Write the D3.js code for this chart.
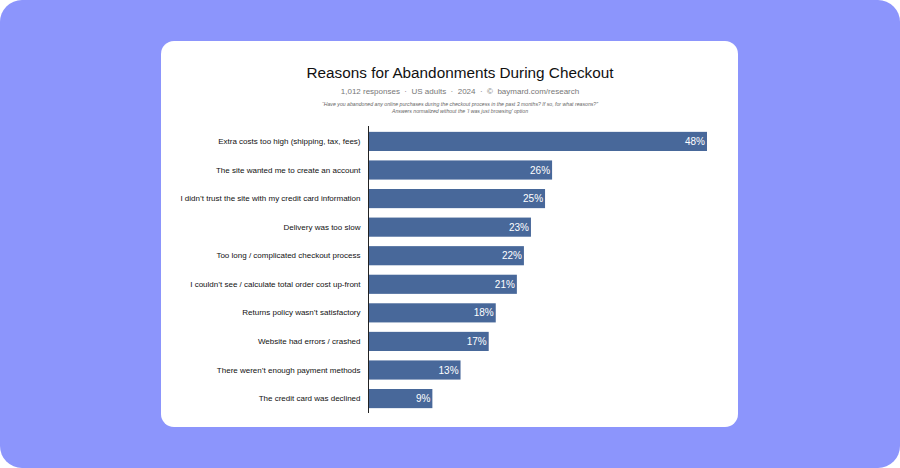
<!DOCTYPE html>
<html><head><meta charset="utf-8">
<script src="https://cdn.jsdelivr.net/npm/d3@7"></script>
<style>html,body{margin:0;padding:0;background:#fff;}svg{display:block;}</style>
</head><body>
<script>
const categories = [
  "Extra costs too high (shipping, tax, fees)",
  "The site wanted me to create an account",
  "I didn\u2019t trust the site with my credit card information",
  "Delivery was too slow",
  "Too long / complicated checkout process",
  "I couldn\u2019t see / calculate total order cost up-front",
  "Returns policy wasn\u2019t satisfactory",
  "Website had errors / crashed",
  "There weren\u2019t enough payment methods",
  "The credit card was declined"
];
const values = [48, 26, 25, 23, 22, 21, 18, 17, 13, 9];
const title = "Reasons for Abandonments During Checkout";
const subtitle = "1,012 responses  \u00b7  US adults  \u00b7  2024  \u00b7  \u00a9  baymard.com/research";
const notes = ["\u201cHave you abandoned any online purchases during the checkout process in the past 3 months? If so, for what reasons?\u201d",
               "Answers normalized without the \u2018I was just browsing\u2019 option"];

const W = 900, H = 468;
const svg = d3.select("body").append("svg").attr("width", W).attr("height", H);
svg.append("rect").attr("x",0).attr("y",0).attr("width",W).attr("height",H).attr("rx",22).attr("fill","#8c95fc");
svg.append("rect").attr("x",161).attr("y",41).attr("width",577).attr("height",386).attr("rx",13).attr("fill","#ffffff");

const font = "'Liberation Sans', Arial, Helvetica, sans-serif";
const cx = 460;
svg.append("text").attr("x",cx).attr("y",77.5).attr("text-anchor","middle")
  .attr("font-family",font).attr("font-size",15.3).attr("fill","#111").text(title);
svg.append("text").attr("x",cx).attr("y",94).attr("text-anchor","middle")
  .attr("font-family",font).attr("font-size",8).attr("fill","#777").attr("xml:space","preserve").text(subtitle);
notes.forEach((n,i)=>{
  svg.append("text").attr("x",cx).attr("y",105.5+i*7.3).attr("text-anchor","middle")
    .attr("font-family",font).attr("font-size",5.2).attr("font-style","italic").attr("fill","#666").text(n);
});

const x = d3.scaleLinear().domain([0,48]).range([369,707]);
const y = d3.scaleBand().domain(categories).range([127,413]).paddingInner(0.33).paddingOuter(0.17);

svg.append("g").selectAll("rect").data(values).join("rect")
  .attr("x", x(0)).attr("y",(d,i)=>y(categories[i])).attr("width",d=>x(d)-x(0)).attr("height",y.bandwidth())
  .attr("fill","#48689a");

svg.append("g").selectAll("text").data(values).join("text")
  .attr("x",d=>x(d)-2).attr("y",(d,i)=>y(categories[i])+y.bandwidth()/2).attr("dy","0.36em")
  .attr("text-anchor","end").attr("font-family",font).attr("font-size",10).attr("fill","#fff")
  .text(d=>d+"%");

const yAxis = d3.axisLeft(y).tickSize(0).tickPadding(8);
const ga = svg.append("g").attr("transform",`translate(368.5,0)`).call(yAxis);
ga.select(".domain").attr("d","M0,126V413").attr("stroke","#222").attr("stroke-width",1);
ga.selectAll("text").attr("font-family",font).attr("font-size",8).attr("fill","#111");
</script>
</body></html>
